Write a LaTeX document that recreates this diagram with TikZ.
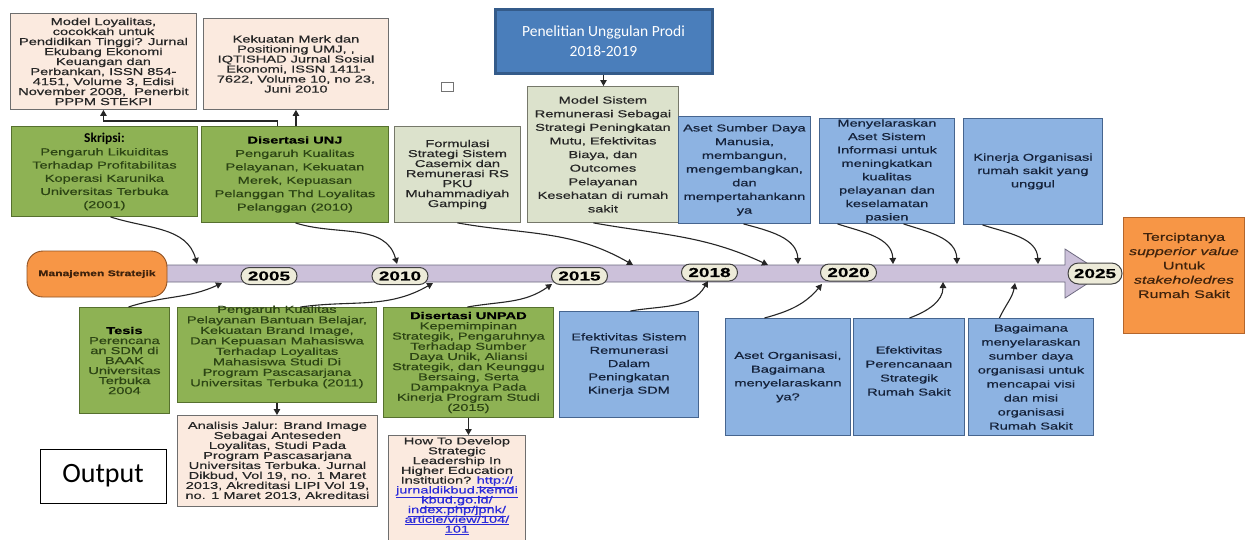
\documentclass[tikz,border=0pt]{standalone}
\usepackage{fontspec}
\setmainfont{Liberation Sans}
\newfontfamily\wf{Liberation Sans}[FakeStretch=1.46,FakeBold=0.5]
\newfontfamily\cf{Carlito}
\usetikzlibrary{arrows.meta,shapes.misc}

\definecolor{peach}{HTML}{FBEADF}
\definecolor{publine}{HTML}{6E6E6E}
\definecolor{olive}{HTML}{8EB254}
\definecolor{oliveline}{HTML}{56702E}
\definecolor{olivetext}{HTML}{2C4414}
\definecolor{pale}{HTML}{DCE2CC}
\definecolor{paleline}{HTML}{76786A}
\definecolor{sky}{HTML}{8DB3E2}
\definecolor{skyline}{HTML}{46658F}
\definecolor{skytext}{HTML}{15223A}
\definecolor{navy}{HTML}{4A7EBB}
\definecolor{navyline}{HTML}{345B8A}
\definecolor{amber}{HTML}{F79646}
\definecolor{amberline}{HTML}{B4662C}
\definecolor{ambertext}{HTML}{3E220C}
\definecolor{lav}{HTML}{CCC1DA}
\definecolor{lavline}{HTML}{6E6A80}
\definecolor{pill}{HTML}{EDEBD9}
\definecolor{linkblue}{HTML}{2B2BD9}

\newcommand\lnk[1]{\textcolor{linkblue}{\underline{#1}}}

\tikzset{
  boxbase/.style={anchor=north west, align=center, inner sep=0pt, line width=0.9pt,
    font=\wf\fontsize{10}{10}\selectfont},
  pubbox/.style={boxbase, fill=peach, draw=publine, text=black!85},
  grnbox/.style={boxbase, fill=olive, draw=oliveline, text=olivetext},
  palebox/.style={boxbase, fill=pale, draw=paleline, text=black!85},
  bluebox/.style={boxbase, fill=sky, draw=skyline, text=skytext},
  txt/.style={align=center, inner sep=0pt},
  band/.style={fill=lav, draw=lavline, line width=0.8pt},
  yearpill/.style={rounded rectangle, fill=pill, draw=black!75, line width=1pt,
    minimum width=56pt, minimum height=17pt, inner sep=0pt,
    font=\wf\bfseries\fontsize{13}{13}\selectfont},
  arr/.style={draw=black!85, line width=1.1pt, -{Triangle[length=6pt,width=6.5pt]}}
}

\begin{document}
% keep the tight line spacing even where lines touch
\lineskiplimit=-20pt
\lineskip=0pt
\begin{tikzpicture}[x=1pt,y=1pt]
\useasboundingbox (0,0) rectangle (1246,-539);
\fill[white] (0,0) rectangle (1246,-539);

% timeline arrow
\draw[band] (150,-265) -- (1065,-265) -- (1065,-249) -- (1103,-273.5)
  -- (1065,-298) -- (1065,-282) -- (150,-282) -- cycle;

% publications above
\node[pubbox, minimum width=186pt, minimum height=96pt] (pub1) at (10,-13)
  {Model Loyalitas,\\ cocokkah untuk\\ Pendidikan Tinggi? Jurnal\\ Ekubang Ekonomi\\
   Keuangan dan\\ Perbankan, ISSN 854-\\ 4151, Volume 3, Edisi\\
   November 2008,\ \ Penerbit\\ PPPM STEKPI};
\node[pubbox, minimum width=185pt, minimum height=91pt] (pub2) at (203,-18)
  {Kekuatan Merk dan\\ Positioning UMJ, ,\\ IQTISHAD Jurnal Sosial\\ Ekonomi, ISSN 1411-\\
   7622, Volume 10, no 23,\\ Juni 2010};

% theses above the timeline
\node[grnbox, minimum width=186pt, minimum height=90pt, font=\wf\fontsize{10}{13.2}\selectfont]
  (skripsi) at (11,-126)
  {\textcolor{black}{\cf\bfseries\fontsize{13.5}{13.2}\selectfont Skripsi:}\\ Pengaruh Likuiditas\\
   Terhadap Profitabilitas\\ Koperasi Karunika\\ Universitas Terbuka\\ (2001)};
\node[grnbox, minimum width=187pt, minimum height=96pt, font=\wf\fontsize{10}{13.4}\selectfont]
  (unj) at (201,-126)
  {\textcolor{black}{\bfseries Disertasi UNJ}\\ Pengaruh Kualitas\\ Pelayanan, Kekuatan\\
   Merek, Kepuasan\\ Pelanggan Thd Loyalitas\\ Pelanggan (2010)};
\node[palebox, minimum width=126pt, minimum height=96pt] (form) at (394,-126)
  {Formulasi\\ Strategi Sistem\\ Casemix dan\\ Remunerasi RS\\ PKU\\ Muhammadiyah\\ Gamping};

% research header
\node[fill=navy, draw=navyline, line width=3pt, minimum width=217pt, minimum height=64pt,
  inner sep=0pt, align=center, text=white, font=\cf\fontsize{15.5}{20}\selectfont]
  (head) at (603.5,-41) {Penelitian Unggulan Prodi\\ 2018-2019};
\node[draw=black!55, fill=white, line width=0.7pt, minimum width=12pt, minimum height=9pt,
  inner sep=0pt] (sq) at (447,-86.5) {};

\node[palebox, minimum width=151pt, minimum height=136pt, font=\wf\fontsize{10}{13.6}\selectfont]
  (model) at (527,-86)
  {Model Sistem\\ Remunerasi Sebagai\\ Strategi Peningkatan\\ Mutu, Efektivitas\\ Biaya, dan\\
   Outcomes\\ Pelayanan\\ Kesehatan di rumah\\ sakit};
\node[bluebox, minimum width=132pt, minimum height=107pt, font=\wf\fontsize{10}{13.7}\selectfont]
  (asetsdm) at (678,-116)
  {Aset Sumber Daya\\ Manusia,\\ membangun,\\ mengembangkan,\\ dan\\ mempertahankann\\ ya};
\node[bluebox, minimum width=135pt, minimum height=105pt, font=\wf\fontsize{10}{13.4}\selectfont]
  (menyel) at (819,-118)
  {Menyelaraskan\\ Aset Sistem\\ Informasi untuk\\ meningkatkan\\ kualitas\\ pelayanan dan\\
   keselamatan\\ pasien};
\node[bluebox, minimum width=139pt, minimum height=106pt, font=\wf\fontsize{10}{13.3}\selectfont]
  (kinerja) at (963,-118)
  {Kinerja Organisasi\\ rumah sakit yang\\ unggul};

% goal
\node[fill=amber, draw=amberline, line width=0.9pt, anchor=north west,
  minimum width=121pt, minimum height=116pt, inner sep=0pt] (goal) at (1123,-217) {};
\node[txt, text=ambertext, font=\wf\fontsize{11}{14.3}\selectfont] (goal-t)
  at ([yshift=10pt]goal.center)
  {Terciptanya\\ \textit{supperior value}\\ Untuk\\ \textit{stakeholedres}\\ Rumah Sakit};

% theses and studies below the timeline
\node[grnbox, minimum width=90pt, minimum height=106pt] (tesis) at (79,-307)
  {\textcolor{black}{\bfseries Tesis}\\ Perencana\\ an SDM di\\ BAAK\\ Universitas\\ Terbuka\\ 2004};
\node[grnbox, minimum width=199pt, minimum height=95pt] (pengaruh) at (177,-307) {};
\node[txt, text=olivetext, font=\wf\fontsize{10}{10.5}\selectfont] (pengaruh-t)
  at ([yshift=8pt]pengaruh.center)
  {Pengaruh Kualitas\\ Pelayanan Bantuan Belajar,\\ Kekuatan Brand Image,\\
   Dan Kepuasan Mahasiswa\\ Terhadap Loyalitas\\ Mahasiswa Studi Di\\
   Program Pascasarjana\\ Universitas Terbuka (2011)};
\node[grnbox, minimum width=170pt, minimum height=110pt, font=\wf\fontsize{10}{10.2}\selectfont]
  (unpad) at (383,-307)
  {\textcolor{black}{\bfseries Disertasi UNPAD}\\ Kepemimpinan\\ Strategik, Pengaruhnya\\
   Terhadap Sumber\\ Daya Unik, Aliansi\\ Strategik, dan Keunggu\\ Bersaing, Serta\\
   Dampaknya Pada\\ Kinerja Program Studi\\ (2015)};
\node[bluebox, minimum width=139pt, minimum height=106pt, font=\wf\fontsize{10}{13.3}\selectfont]
  (efsis) at (559,-311)
  {Efektivitas Sistem\\ Remunerasi\\ Dalam\\ Peningkatan\\ Kinerja SDM};
\node[bluebox, minimum width=125pt, minimum height=117pt, font=\wf\fontsize{10}{13.8}\selectfont]
  (asetorg) at (725,-318)
  {Aset Organisasi,\\ Bagaimana\\ menyelaraskann\\ ya?};
\node[bluebox, minimum width=111pt, minimum height=117pt] (efper) at (853,-318) {};
\node[txt, text=skytext, font=\wf\fontsize{10}{14}\selectfont] (efper-t)
  at ([yshift=6pt]efper.center)
  {Efektivitas\\ Perencanaan\\ Strategik\\ Rumah Sakit};
\node[bluebox, minimum width=125pt, minimum height=117pt, font=\wf\fontsize{10}{14}\selectfont]
  (bagai) at (968,-318)
  {Bagaimana\\ menyelaraskan\\ sumber daya\\ organisasi untuk\\ mencapai visi\\ dan misi\\
   organisasi\\ Rumah Sakit};

% publications below
\node[pubbox, minimum width=200pt, minimum height=91pt] (analisis) at (177,-415)
  {Analisis Jalur: Brand Image\\ Sebagai Anteseden\\ Loyalitas, Studi Pada\\
   Program Pascasarjana\\ Universitas Terbuka. Jurnal\\ Dikbud, Vol 19, no. 1 Maret\\
   2013, Akreditasi LIPI Vol 19,\\ no. 1 Maret 2013, Akreditasi};
\node[pubbox, minimum width=137pt, minimum height=110pt] (howto) at (388,-435) {};
\node[txt, anchor=north, text=black!85, font=\wf\fontsize{10}{9.8}\selectfont] (howto-t)
  at ([yshift=-2pt]howto.north)
  {How To Develop\\ Strategic\\ Leadership In\\ Higher Education\\
   Institution? \lnk{http://}\\ \lnk{jurnaldikbud.kemdi}\\ \lnk{kbud.go.id/}\\
   \lnk{index.php/jpnk/}\\ \lnk{article/view/104/}\\ \lnk{101}};

\node[draw=black, fill=white, line width=0.8pt, minimum width=126pt, minimum height=54pt,
  inner sep=0pt, font=\cf\fontsize{28}{30}\selectfont] (output) at (103,-476) {Output};

% start of the timeline and the years
\node[fill=amber, draw=amberline!80!black, line width=0.9pt, rounded corners=16pt,
  minimum width=140pt, minimum height=46pt, inner sep=0pt, text=ambertext,
  font=\wf\bfseries\fontsize{8.3}{9}\selectfont] (mgmt) at (97,-274) {Manajemen Stratejik};
\node[yearpill] (y2005) at (269,-276) {2005};
\node[yearpill] (y2010) at (400,-276) {2010};
\node[yearpill] (y2015) at (579.5,-276) {2015};
\node[yearpill] (y2018) at (709.5,-272.5) {2018};
\node[yearpill] (y2020) at (848.5,-272.5) {2020};
\node[yearpill, minimum width=54pt, minimum height=21pt] (y2025) at (1095,-273.5) {2025};

% points where the connectors meet the timeline
\coordinate (t1) at (197,-264);
\coordinate (t2) at (397,-264);
\coordinate (t3) at (633,-265);
\coordinate (t4) at (768,-265);
\coordinate (t5) at (798,-264);
\coordinate (t6) at (893,-264);
\coordinate (t7) at (957,-264);
\coordinate (t8) at (1038,-264);
\coordinate (b1) at (222,-283);
\coordinate (b2) at (433,-283);
\coordinate (b3) at (552,-284);
\coordinate (b4) at (708,-281);
\coordinate (b5) at (822,-284);
\coordinate (b6) at (943,-282);
\coordinate (b7) at (1015,-283);

% connectors from above
\draw[arr] ([xshift=6pt]skripsi.south) to[out=-18,in=105] (t1);
\draw[arr] ([xshift=0.5pt]unj.south) to[out=-18,in=105] (t2);
\draw[arr] (form.south) to[out=-10,in=150] (t3);
\draw[arr] ([xshift=-9.5pt]model.south) to[out=-10,in=155] (t4);
\draw[arr] ([xshift=-1pt]asetsdm.south) to[out=-15,in=92] (t5);
\draw[arr] ([xshift=-49.5pt]menyel.south) to[out=-18,in=92] (t6);
\draw[arr] ([xshift=16.5pt]menyel.south) to[out=-18,in=92] (t7);
\draw[arr] ([xshift=-50.5pt]kinerja.south) to[out=-18,in=92] (t8);

% connectors from below
\draw[arr] ([xshift=4pt]tesis.north) to[out=18,in=-155] (b1);
\draw[arr] ([xshift=23.5pt]pengaruh.north) to[out=8,in=-150] (b2);
\draw[arr] ([xshift=-1pt]unpad.north) to[out=10,in=-145] (b3);
\draw[arr] ([xshift=1.5pt]efsis.north) to[out=10,in=-120] (b4);
\draw[arr] ([xshift=-23.5pt]asetorg.north) to[out=15,in=-130] (b5);
\draw[arr] ([xshift=0.5pt]efper.north) to[out=20,in=-90] (b6);
\draw[arr] ([xshift=-31.5pt]bagai.north) to[out=65,in=-100] (b7);

% links to the publications
\draw[arr] (unj.north -| pub2.south) -- (pub2.south);
\draw[arr] ([xshift=-17.5pt]unj.north) -- ++(0,5) -| (pub1.south);
\draw[arr] (head.south) -- (head.south |- model.north);
\draw[arr] (pengaruh.south) -- (pengaruh.south |- analisis.north);
\draw[arr] (unpad.south) -- (unpad.south |- howto.north);
\end{tikzpicture}
\end{document}
